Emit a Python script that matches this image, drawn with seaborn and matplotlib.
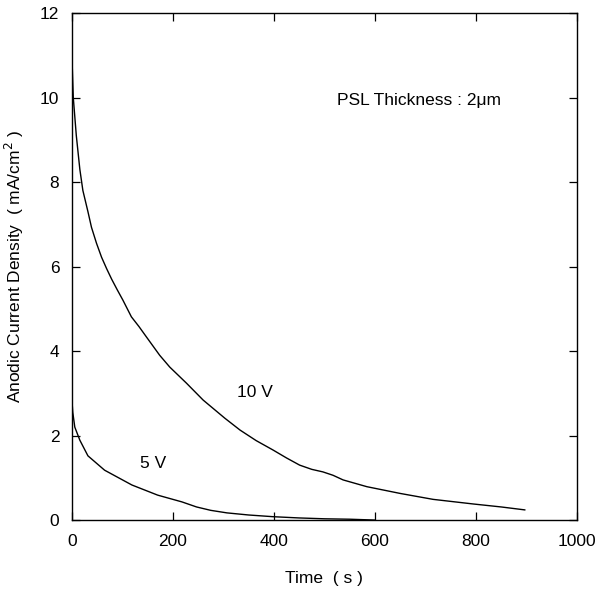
import matplotlib
matplotlib.use("Agg")
import matplotlib.pyplot as plt
import seaborn as sns
import pandas as pd

# 10 V curve
t_10v = [0, 3, 9, 16, 22, 32, 39, 49, 59, 69, 79, 90, 101, 118, 133, 148, 174, 194,
         227, 260, 303, 333, 365, 398, 425, 451, 475, 497, 517, 537, 584, 650, 715,
         795, 850, 897]
j_10v = [11.1, 10.0, 9.1, 8.3, 7.8, 7.3, 6.93, 6.55, 6.22, 5.95, 5.7, 5.45, 5.21,
         4.81, 4.58, 4.33, 3.9, 3.62, 3.24, 2.84, 2.41, 2.13, 1.88, 1.66, 1.47, 1.30,
         1.20, 1.14, 1.06, 0.95, 0.79, 0.63, 0.49, 0.38, 0.31, 0.24]
# 5 V curve
t_5v = [0, 2, 6, 16, 32, 65, 119, 170, 218, 247, 275, 307, 350, 398, 450, 500, 550, 600]
j_5v = [2.9, 2.55, 2.2, 1.89, 1.52, 1.18, 0.83, 0.59, 0.43, 0.31, 0.23, 0.17, 0.12,
        0.08, 0.05, 0.03, 0.02, 0.0]

x_ticks = [0, 200, 400, 600, 800, 1000]
y_ticks = [0, 2, 4, 6, 8, 10, 12]

df = pd.concat([
    pd.DataFrame({"t": t_10v, "j": j_10v, "v": "10 V"}),
    pd.DataFrame({"t": t_5v, "j": j_5v, "v": "5 V"}),
])

sns.set_style("ticks")
plt.rcParams["font.family"] = ["Liberation Sans", "DejaVu Sans"]
plt.rcParams["text.color"] = "black"
plt.rcParams["axes.labelcolor"] = "black"

fig = plt.figure(figsize=(5.98, 5.93), dpi=100)
ax = fig.add_axes([0.120, 0.123, 0.845, 0.855])

sns.lineplot(data=df, x="t", y="j", units="v", estimator=None, sort=False,
             color="black", linewidth=1.0, ax=ax, legend=False)

ax.set_xlim(0, 1000)
ax.set_ylim(0, 12)
ax.set_xticks(x_ticks)
ax.set_yticks(y_ticks)
ax.tick_params(direction="in", length=6, width=0.9, top=True, right=True,
               labelsize=12.5, colors="black", pad=10)
ax.tick_params(axis="y", pad=9)
for s in ax.spines.values():
    s.set_visible(True)
    s.set_linewidth(1.0)
    s.set_color("black")

ax.set_xlabel("Time  ( s )", fontsize=12.5, labelpad=16, color="black")
ax.set_ylabel("Anodic Current Density  ( mA/cm$^2$ )", fontsize=12.5, labelpad=10,
              color="black")

ax.text(525, 9.94, "PSL Thickness : 2\u03bcm", fontsize=12.5, va="center", ha="left",
        color="black")
ax.text(327, 3.03, "10 V", fontsize=12.5, va="center", ha="left", color="black")
ax.text(135, 1.35, "5 V", fontsize=12.5, va="center", ha="left", color="black")

fig.savefig("out.png", dpi=100)
